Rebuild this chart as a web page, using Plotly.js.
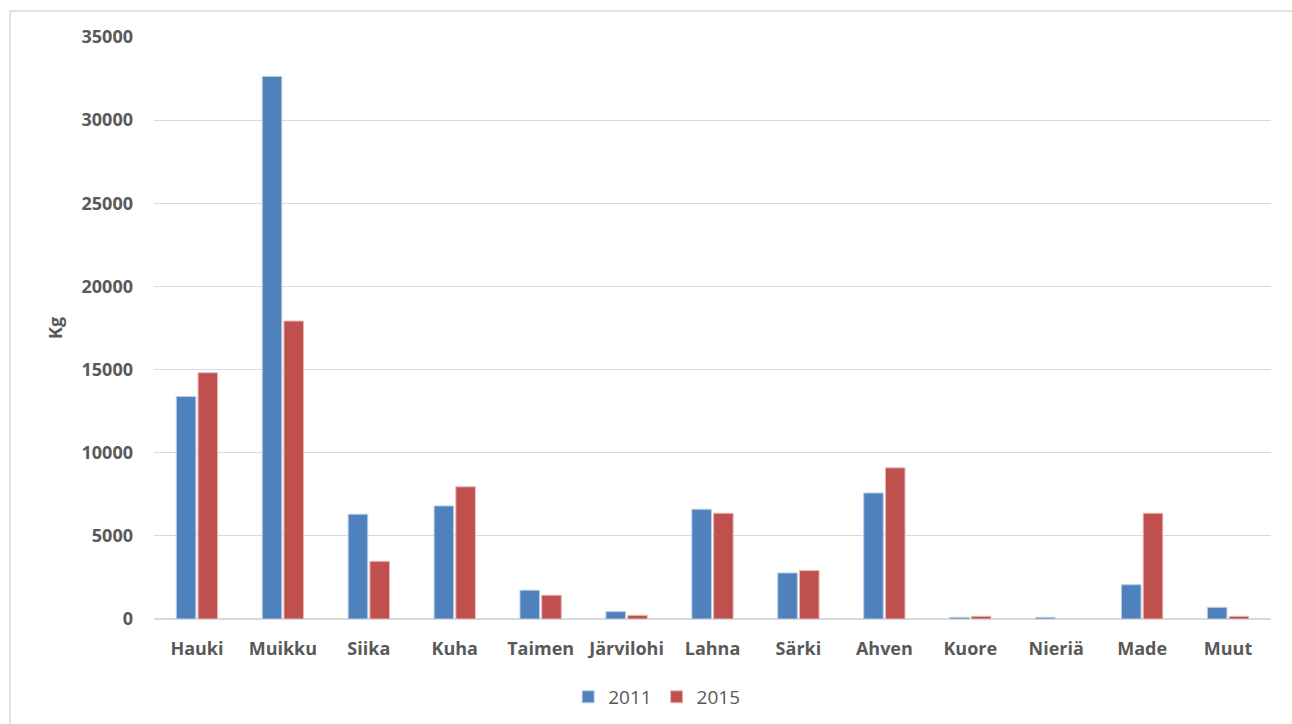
<!DOCTYPE html>
<html>
<head>
<meta charset="utf-8">
<script src="https://cdn.plot.ly/plotly-3.0.1.min.js"></script>
<style>html,body{margin:0;padding:0;background:#fff;}#chart{width:1292px;height:724px;}</style>
</head>
<body>
<div id="chart"></div>
<script>
const categories = ["Hauki","Muikku","Siika","Kuha","Taimen","Järvilohi","Lahna","Särki","Ahven","Kuore","Nieriä","Made","Muut"];
const values2011 = [13380, 32630, 6300, 6800, 1730, 440, 6600, 2770, 7580, 100, 100, 2060, 700];
const values2015 = [14810, 17920, 3470, 7950, 1430, 220, 6360, 2910, 9090, 160, 0, 6360, 160];
const seriesNames = ["2011", "2015"];
const yTicks = [0, 5000, 10000, 15000, 20000, 25000, 30000, 35000];

const fam = "Open Sans, Liberation Sans, sans-serif";
const tickFont = {family: fam, size: 18, color: "#595959", weight: 700};
const edge = vals => vals.map(v => (v === 0 ? 0 : 1));

const traces = [
  {type: "bar", name: seriesNames[0], x: categories, y: values2011,
   marker: {color: "#4f81bd", line: {color: "#b9cde5", width: edge(values2011)}}},
  {type: "bar", name: seriesNames[1], x: categories, y: values2015,
   marker: {color: "#c0504d", line: {color: "#e6b9b8", width: edge(values2015)}}}
];

const layout = {
  width: 1292, height: 724,
  margin: {l: 154, r: 21, t: 37, b: 105, autoexpand: false},
  paper_bgcolor: "#ffffff", plot_bgcolor: "#ffffff",
  barmode: "group", bargap: 0.494, bargroupgap: 0.1,
  showlegend: true,
  legend: {orientation: "h", x: 0.45, xanchor: "center", y: -0.134, yanchor: "middle",
           font: {family: fam, size: 19, color: "#595959"},
           itemwidth: 30, traceorder: "normal"},
  xaxis: {showgrid: false, showline: false, zeroline: false, ticks: "",
          tickfont: tickFont, ticklabelstandoff: 17, fixedrange: true, automargin: false},
  yaxis: {range: [0, 35000], tickvals: yTicks, ticktext: yTicks.map(String),
          showgrid: true, gridcolor: "#d9d9d9", gridwidth: 1.2,
          zeroline: true, zerolinecolor: "#d9d9d9", zerolinewidth: 1.5,
          showline: false, ticks: "", tickfont: tickFont, ticklabelstandoff: 20, automargin: false,
          title: {text: "Kg", font: {family: fam, size: 18, color: "#595959", weight: 700}, standoff: 14}},
  shapes: [{type: "rect", xref: "paper", yref: "paper",
            x0: (10 - 154) / 1117, x1: (1300 - 154) / 1117,
            y0: (619 - 740) / 582, y1: (619 - 11) / 582,
            line: {color: "#d9d9d9", width: 1.5}, fillcolor: "rgba(0,0,0,0)", layer: "below"}]
};

Plotly.newPlot("chart", traces, layout, {displayModeBar: false, staticPlot: true});
</script>
</body>
</html>
